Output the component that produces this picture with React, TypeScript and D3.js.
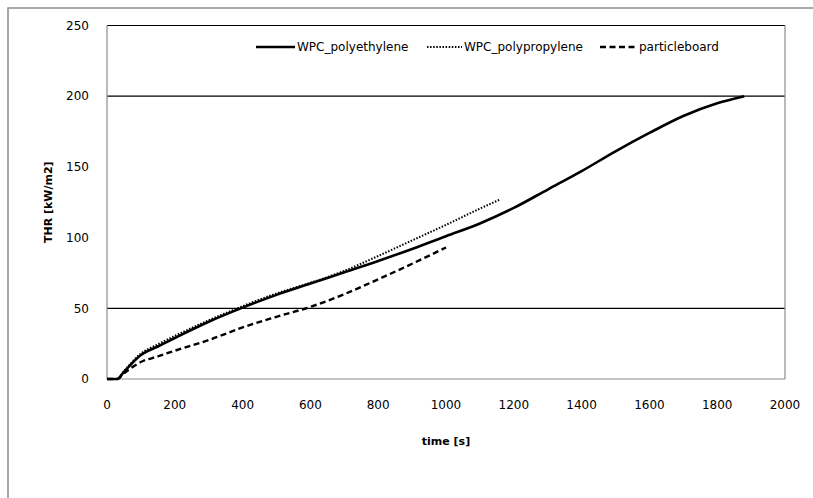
import React, { useEffect, useRef } from "react";
import * as d3 from "d3";

// time [s] and THR [kW/m2]
const peTime = [0, 30, 50, 100, 150, 200, 300, 400, 500, 600, 700, 800, 900, 1000, 1100, 1200, 1300, 1400, 1500, 1600, 1700, 1800, 1880];
const peThr = [0, 0, 5, 17, 23, 29, 40.5, 50.5, 59.5, 67.5, 75.5, 83.5, 92, 101, 110, 121, 134, 147, 161, 174, 186, 195, 200];

const ppTime = [0, 30, 50, 100, 150, 200, 300, 400, 500, 600, 700, 800, 900, 1000, 1100, 1160];
const ppThr = [0, 0, 5.5, 18, 24.5, 30.5, 41.5, 51.5, 60.5, 68, 76.5, 87, 98, 109, 120.5, 127];

const pbTime = [0, 30, 50, 100, 150, 200, 300, 400, 500, 600, 700, 800, 900, 1000];
const pbThr = [0, 0, 4, 12, 16, 20, 27.5, 36.5, 44, 51, 60, 70.5, 81.5, 93];

const seriesNames = ["WPC_polyethylene", "WPC_polypropylene", "particleboard"];
const xTicks = [0, 200, 400, 600, 800, 1000, 1200, 1400, 1600, 1800, 2000];
const yTicks = [0, 50, 100, 150, 200, 250];
const gridValues = [50, 200, 250];

const W = 813;
const H = 498;
const FONT = "'DejaVu Sans', Verdana, sans-serif";

const App = () => {
  const svgRef = useRef<SVGSVGElement>(null);

  useEffect(() => {
    const svg = d3.select(svgRef.current);
    svg.selectAll("*").remove();

    const left = 107, right = 785, top = 25.5, bottom = 379;

    const x = d3.scaleLinear().domain([0, 2000]).range([left, right]);
    const y = d3.scaleLinear().domain([0, 250]).range([bottom, top]);

    // chart frame
    svg.append("rect")
      .attr("x", 8).attr("y", 8)
      .attr("width", W + 20).attr("height", H + 20)
      .attr("fill", "white")
      .attr("stroke", "#8c8c8c")
      .attr("stroke-width", 1.5);

    // gridlines
    svg.append("g")
      .selectAll("line")
      .data(gridValues)
      .enter()
      .append("line")
      .attr("x1", left).attr("x2", right)
      .attr("y1", (d) => y(d)).attr("y2", (d) => y(d))
      .attr("stroke", "#000")
      .attr("stroke-width", 1.2);

    // plot area edges
    svg.append("line").attr("x1", left).attr("x2", left).attr("y1", top).attr("y2", bottom)
      .attr("stroke", "#8c8c8c").attr("stroke-width", 1.2);
    svg.append("line").attr("x1", right).attr("x2", right).attr("y1", top).attr("y2", bottom)
      .attr("stroke", "#8c8c8c").attr("stroke-width", 1.2);
    svg.append("line").attr("x1", left).attr("x2", right).attr("y1", bottom).attr("y2", bottom)
      .attr("stroke", "#8c8c8c").attr("stroke-width", 1.2);

    // tick labels
    svg.append("g")
      .selectAll("text")
      .data(yTicks)
      .enter()
      .append("text")
      .attr("x", 89)
      .attr("y", (d) => y(d))
      .attr("dy", "0.35em")
      .attr("text-anchor", "end")
      .style("font-family", FONT)
      .style("font-size", "12px")
      .style("fill", "#000")
      .text((d) => d);

    svg.append("g")
      .selectAll("text")
      .data(xTicks)
      .enter()
      .append("text")
      .attr("x", (d) => x(d))
      .attr("y", 405)
      .attr("dy", "0.35em")
      .attr("text-anchor", "middle")
      .style("font-family", FONT)
      .style("font-size", "12px")
      .style("fill", "#000")
      .text((d) => d);

    // axis titles
    svg.append("text")
      .attr("x", (left + right) / 2)
      .attr("y", 441)
      .attr("dy", "0.35em")
      .attr("text-anchor", "middle")
      .style("font-family", FONT)
      .style("font-size", "11px")
      .style("font-weight", "bold")
      .text("time [s]");

    svg.append("text")
      .attr("transform", `translate(48,${(top + bottom) / 2}) rotate(-90)`)
      .attr("dy", "0.35em")
      .attr("text-anchor", "middle")
      .style("font-family", FONT)
      .style("font-size", "11px")
      .style("font-weight", "bold")
      .text("THR [kW/m2]");

    const line = d3
      .line<[number, number]>()
      .x((d) => x(d[0]))
      .y((d) => y(d[1]))
      .curve(d3.curveMonotoneX);

    const series = [
      { t: peTime, v: peThr, dash: null, width: 2.6 },
      { t: ppTime, v: ppThr, dash: "1.5,1.6", width: 2 },
      { t: pbTime, v: pbThr, dash: "6,3.5", width: 2.4 },
    ];

    // particleboard, then solid, then dotted on top
    [2, 0, 1].forEach((i) => {
      const s = series[i];
      svg.append("path")
        .datum(s.t.map((t, k) => [t, s.v[k]] as [number, number]))
        .attr("fill", "none")
        .attr("stroke", "#000")
        .attr("stroke-width", s.width)
        .attr("stroke-dasharray", s.dash)
        .attr("d", line);
    });

    // legend
    const legendY = 47;
    const legendItems = [
      { x: 256, len: 39 },
      { x: 427, len: 35 },
      { x: 600, len: 37 },
    ];
    legendItems.forEach((item, i) => {
      const s = series[i];
      svg.append("line")
        .attr("x1", item.x).attr("x2", item.x + item.len)
        .attr("y1", legendY).attr("y2", legendY)
        .attr("stroke", "#000")
        .attr("stroke-width", s.width)
        .attr("stroke-dasharray", s.dash);
      svg.append("text")
        .attr("x", item.x + item.len + 2)
        .attr("y", legendY)
        .attr("dy", "0.35em")
        .style("font-family", FONT)
        .style("font-size", "12px")
        .style("fill", "#000")
        .text(seriesNames[i]);
    });
  }, []);

  return (
    <svg
      ref={svgRef}
      width={W}
      height={H}
      style={{ position: "absolute", left: 0, top: 0, background: "white" }}
    ></svg>
  );
};

export default App;
